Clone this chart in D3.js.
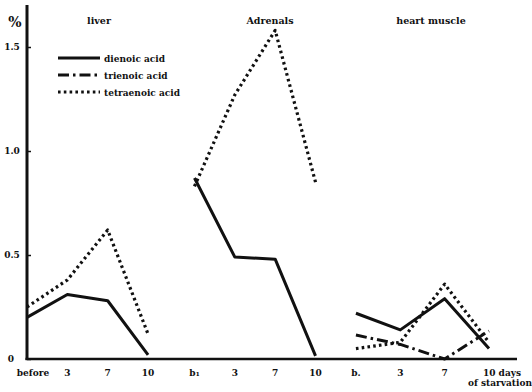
<!DOCTYPE html>
<html>
<head>
<meta charset="utf-8">
<script src="https://cdn.jsdelivr.net/npm/d3@7"></script>
<style>
  html, body { margin: 0; padding: 0; background: #fff; }
  svg text { font-family: "DejaVu Serif", "Liberation Serif", serif; font-weight: bold; fill: #111; }
</style>
</head>
<body>
<svg id="chart" width="532" height="392"></svg>
<script>
// Polyenoic fatty acids (% of total) during starvation, three tissues
const panels = ["liver", "Adrenals", "heart muscle"];
const dayLabels = [
  ["before", "3", "7", "10"],
  ["b\u2081", "3", "7", "10"],
  ["b.", "3", "7", "10 days"]
];
const series = ["dienoic acid", "trienoic acid", "tetraenoic acid"];

const dienoic = [
  [0.20, 0.31, 0.28, 0.02],
  [0.87, 0.49, 0.48, 0.015],
  [0.22, 0.14, 0.29, 0.05]
];
const trienoic = [
  null,
  null,
  [0.115, 0.07, 0.0, 0.135]
];
const tetraenoic = [
  [0.25, 0.38, 0.62, 0.12],
  [0.83, 1.27, 1.58, 0.85],
  [0.05, 0.08, 0.36, 0.08]
];
const yTicks = [0, 0.5, 1.0, 1.5];
const yTickLabels = ["0", "0.5", "1.0", "1.5"];

const svg = d3.select("#chart");
const x0 = 27, yBase = 359;

const y = d3.scaleLinear().domain([0, 1.5]).range([yBase, 47]);

const panelScale = d3.scaleBand().domain(panels)
  .range([x0, 477]).paddingInner(0.264).paddingOuter(0).align(0);

function dayScale(pi) {
  const start = panelScale(panels[pi]) + (pi === 1 ? 3 : 0);
  return d3.scalePoint().domain(d3.range(4))
    .range([start, start + panelScale.bandwidth() + (pi === 2 ? 12 : 0)]);
}

const styles = {
  "dienoic acid": { dash: null, width: 3, cap: "butt" },
  "trienoic acid": { dash: "11,4,2.5,4", width: 3, cap: "butt" },
  "tetraenoic acid": { dash: "2.6,3.2", width: 3.2, cap: "butt" }
};
const valuesBySeries = {
  "dienoic acid": dienoic,
  "trienoic acid": trienoic,
  "tetraenoic acid": tetraenoic
};

// axes
const yAxis = d3.axisRight(y).tickValues(yTicks).tickSize(4).tickFormat("");
const gy = svg.append("g").attr("transform", `translate(${x0},0)`).call(yAxis);
gy.select(".domain").remove();
gy.selectAll(".tick line").attr("stroke", "#111").attr("stroke-width", 1.5);

svg.append("line").attr("x1", x0).attr("x2", x0).attr("y1", 5).attr("y2", yBase + 1)
  .attr("stroke", "#111").attr("stroke-width", 3);
svg.append("line").attr("x1", x0 - 1.5).attr("x2", 517).attr("y1", yBase).attr("y2", yBase)
  .attr("stroke", "#111").attr("stroke-width", 2.5);

svg.selectAll("text.ytick").data(yTicks).join("text")
  .attr("class", "ytick")
  .attr("x", d => d === 0 ? 11 : 12)
  .attr("y", d => y(d) + 3)
  .attr("text-anchor", "middle")
  .attr("font-size", 9)
  .text((d, i) => yTickLabels[i]);

svg.append("text").attr("x", 15).attr("y", 27).attr("text-anchor", "middle")
  .attr("font-size", 14).text("%");

// panel titles and day labels
panels.forEach((p, pi) => {
  const xs = dayScale(pi);
  const cx = pi === 0 ? 99 : pi === 1 ? 270 : 431;
  svg.append("text").attr("x", cx).attr("y", 24).attr("text-anchor", "middle")
    .attr("font-size", 9.5).text(p);

  dayLabels[pi].forEach((lab, di) => {
    let px = xs(di);
    if (pi === 0 && di === 0) px = 33;
    if (pi === 2 && di === 3) px = 502;
    svg.append("text").attr("x", px).attr("y", 376)
      .attr("text-anchor", "middle").attr("font-size", 9).text(lab);
  });
});
svg.append("text").attr("x", 500).attr("y", 386).attr("text-anchor", "middle")
  .attr("font-size", 9).text("of starvation");

// data lines
const line = d3.line().x(d => d[0]).y(d => d[1]);
series.forEach(s => {
  const st = styles[s];
  valuesBySeries[s].forEach((vals, pi) => {
    if (!vals) return;
    const xs = dayScale(pi);
    const pts = vals.map((v, di) => [xs(di), y(v)]);
    svg.append("path").attr("d", line(pts))
      .attr("fill", "none").attr("stroke", "#111")
      .attr("stroke-width", st.width)
      .attr("stroke-linecap", st.cap)
      .attr("stroke-linejoin", "round")
      .attr("stroke-dasharray", st.dash);
  });
});

// legend
const legend = svg.append("g");
series.forEach((s, i) => {
  const st = styles[s];
  const ly = 58 + i * 17;
  legend.append("line").attr("x1", 58).attr("x2", 100).attr("y1", ly).attr("y2", ly)
    .attr("stroke", "#111").attr("stroke-width", st.width)
    .attr("stroke-dasharray", st.dash);
  legend.append("text").attr("x", 104).attr("y", ly + 3.5)
    .attr("font-size", 9).text(s);
});
</script>
</body>
</html>
